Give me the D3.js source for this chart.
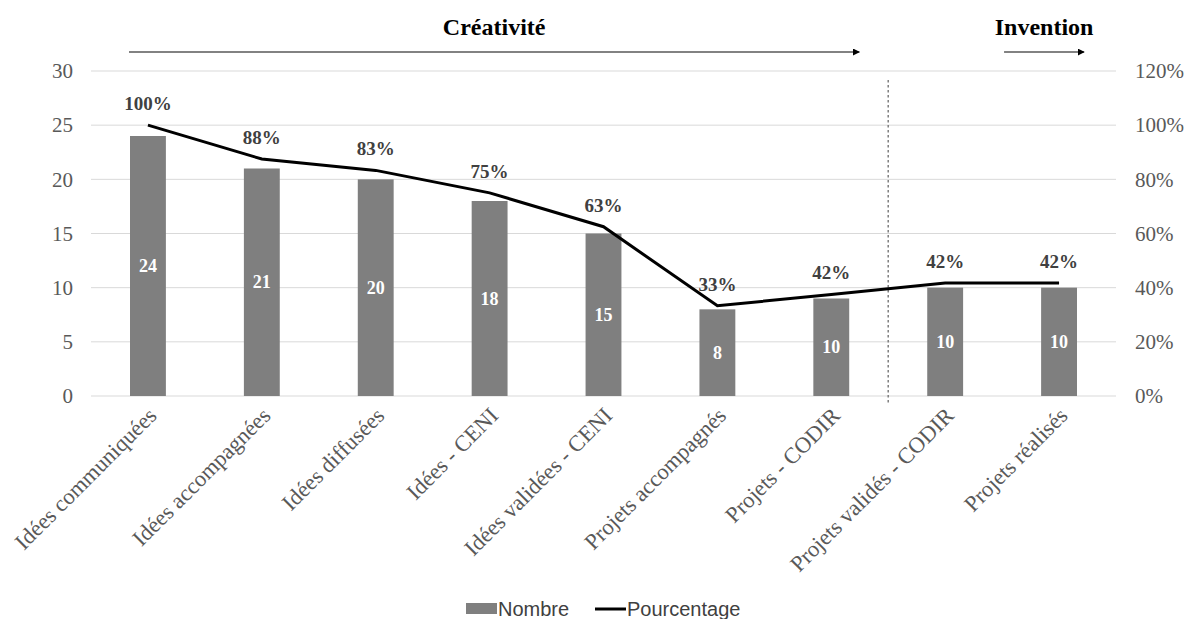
<!DOCTYPE html>
<html>
<head>
<meta charset="utf-8">
<script src="https://cdn.jsdelivr.net/npm/d3@7"></script>
<style>
  body { margin: 0; background: #fff; }
  svg { display: block; }
</style>
</head>
<body>
<div id="chart"></div>
<script>

// categories along the x axis
var categories = ["Idées communiquées", "Idées accompagnées", "Idées diffusées",
                  "Idées - CENI", "Idées validées - CENI", "Projets accompagnés",
                  "Projets - CODIR", "Projets validés - CODIR", "Projets réalisés"];

// Nombre (bars) and their printed labels
var nombre = [24, 21, 20, 18, 15, 8, 9, 10, 10];
var nombreLabels = ["24", "21", "20", "18", "15", "8", "10", "10", "10"];

// Pourcentage (line) and printed labels
var pourcentage = [100, 87.5, 83.3, 75, 62.5, 33.3, 37.5, 41.7, 41.7];
var pctLabels = ["100%", "88%", "83%", "75%", "63%", "33%", "42%", "42%", "42%"];

var leftTicks = [0, 5, 10, 15, 20, 25, 30];
var rightTicks = [0, 20, 40, 60, 80, 100, 120];

// phases shown on top: first / last category covered
var phases = [
  {name: "Créativité", from: 0, to: 6},
  {name: "Invention", from: 8, to: 8}
];

var W = 1188, H = 619;
var margin = {top: 71, right: 72, bottom: 223, left: 91};
var width = W - margin.left - margin.right,
    height = H - margin.top - margin.bottom;

var serif = "'Liberation Serif', 'Times New Roman', serif";

var svg = d3.select("#chart").append("svg")
    .attr("width", W)
    .attr("height", H);

var defs = svg.append("defs");
defs.append("marker")
    .attr("id", "arrow")
    .attr("viewBox", "0 0 10 10")
    .attr("refX", 9).attr("refY", 5)
    .attr("markerWidth", 7).attr("markerHeight", 7)
    .attr("markerUnits", "userSpaceOnUse")
    .attr("orient", "auto")
    .append("path")
    .attr("d", "M0,0 L10,5 L0,10 Z")
    .attr("fill", "#000");

var g = svg.append("g")
    .attr("transform", "translate(" + margin.left + "," + margin.top + ")");

var x = d3.scaleBand()
    .domain(categories)
    .range([0, width])
    .padding(0);

var barW = x.bandwidth() * 0.315;

var yL = d3.scaleLinear().domain([0, 30]).range([height, 0]);
var yR = d3.scaleLinear().domain([0, 120]).range([height, 0]);

// gridlines
g.append("g")
    .attr("class", "grid")
    .selectAll("line")
    .data(leftTicks)
    .enter().append("line")
    .attr("x1", 0).attr("x2", width)
    .attr("y1", function(d){ return yL(d); })
    .attr("y2", function(d){ return yL(d); })
    .attr("stroke", "#d9d9d9")
    .attr("stroke-width", 1);

// left axis
var axisL = g.append("g")
    .call(d3.axisLeft(yL).tickValues(leftTicks).tickSize(0).tickPadding(18));
axisL.select(".domain").remove();
axisL.selectAll("text")
    .style("font-family", serif)
    .style("font-size", "21px")
    .attr("fill", "#595959");

// right axis
var axisR = g.append("g")
    .attr("transform", "translate(" + width + ",0)")
    .call(d3.axisRight(yR).tickValues(rightTicks).tickSize(0).tickPadding(19)
          .tickFormat(function(d){ return d + "%"; }));
axisR.select(".domain").remove();
axisR.selectAll("text")
    .style("font-family", serif)
    .style("font-size", "21px")
    .attr("fill", "#595959");

// bars
g.selectAll(".bar")
    .data(nombre)
    .enter().append("rect")
    .attr("class", "bar")
    .attr("x", function(d, i){ return x(categories[i]) + x.bandwidth()/2 - barW/2; })
    .attr("y", function(d){ return yL(d); })
    .attr("width", barW)
    .attr("height", function(d){ return height - yL(d); })
    .attr("fill", "#7f7f7f");

// bar labels
g.selectAll(".barlabel")
    .data(nombre)
    .enter().append("text")
    .attr("class", "barlabel")
    .attr("x", function(d, i){ return x(categories[i]) + x.bandwidth()/2; })
    .attr("y", function(d){ return (yL(d) + height) / 2; })
    .attr("text-anchor", "middle")
    .attr("dominant-baseline", "central")
    .style("font-family", serif)
    .style("font-size", "18px")
    .style("font-weight", "bold")
    .attr("fill", "#fff")
    .text(function(d, i){ return nombreLabels[i]; });

// separator between the phases
var sepX = x(categories[7]);
g.append("line")
    .attr("x1", sepX).attr("x2", sepX)
    .attr("y1", 9).attr("y2", height + 7)
    .attr("stroke", "#7f7f7f")
    .attr("stroke-width", 1.5)
    .attr("stroke-dasharray", "2.5,2.5");

// line
var line = d3.line()
    .x(function(d, i){ return x(categories[i]) + x.bandwidth()/2; })
    .y(function(d){ return yR(d); });

g.append("path")
    .datum(pourcentage)
    .attr("d", line)
    .attr("fill", "none")
    .attr("stroke", "#000")
    .attr("stroke-width", 3);

// percent labels
g.selectAll(".pctlabel")
    .data(pourcentage)
    .enter().append("text")
    .attr("class", "pctlabel")
    .attr("x", function(d, i){ return x(categories[i]) + x.bandwidth()/2; })
    .attr("y", function(d){ return yR(d) - 15; })
    .attr("text-anchor", "middle")
    .style("font-family", serif)
    .style("font-size", "19px")
    .style("font-weight", "bold")
    .attr("fill", "#404040")
    .text(function(d, i){ return pctLabels[i]; });

// category labels, rotated
g.selectAll(".catlabel")
    .data(categories)
    .enter().append("text")
    .attr("class", "catlabel")
    .attr("transform", function(d){
      return "translate(" + (x(d) + x.bandwidth()/2 + 10) + "," + (height + 21) + ") rotate(-45)";
    })
    .attr("text-anchor", "end")
    .style("font-family", serif)
    .style("font-size", "22.5px")
    .attr("fill", "#595959")
    .text(function(d){ return d; });

// phase headers with arrows
phases.forEach(function(p){
  var x0 = p.from == 0 ? 38 : x(categories[p.from]) + x.bandwidth()/2 - 55;
  var x1 = x(categories[p.to]) + x.bandwidth()/2 + (p.from == 0 ? 28 : 25);
  g.append("line")
      .attr("x1", x0).attr("x2", x1)
      .attr("y1", -19).attr("y2", -19)
      .attr("stroke", "#595959")
      .attr("stroke-width", 1.5)
      .attr("marker-end", "url(#arrow)");
  g.append("text")
      .attr("x", (x0 + x1) / 2)
      .attr("y", -36)
      .attr("text-anchor", "middle")
      .style("font-family", serif)
      .style("font-size", "24px")
      .style("font-weight", "bold")
      .attr("fill", "#000")
      .text(p.name);
});

// legend
var legend = svg.append("g")
    .attr("transform", "translate(466,609)");
legend.append("rect")
    .attr("x", 0).attr("y", -6)
    .attr("width", 31).attr("height", 11)
    .attr("fill", "#7f7f7f");
legend.append("text")
    .attr("x", 32).attr("y", 0)
    .attr("dominant-baseline", "central")
    .style("font-family", "'Liberation Sans', Arial, sans-serif")
    .style("font-size", "20px")
    .attr("fill", "#404040")
    .text("Nombre");
legend.append("line")
    .attr("x1", 129).attr("x2", 160)
    .attr("y1", 0).attr("y2", 0)
    .attr("stroke", "#000")
    .attr("stroke-width", 3);
legend.append("text")
    .attr("x", 161).attr("y", 0)
    .attr("dominant-baseline", "central")
    .style("font-family", "'Liberation Sans', Arial, sans-serif")
    .style("font-size", "20px")
    .attr("fill", "#404040")
    .text("Pourcentage");

</script>
</body>
</html>
